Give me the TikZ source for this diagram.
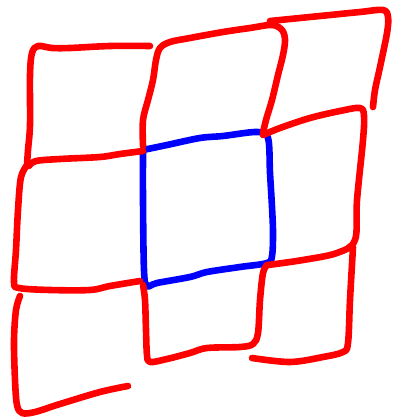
\documentclass[tikz,border=0pt]{standalone}
\usetikzlibrary{calc}
\definecolor{inkred}{HTML}{FF0000}
\definecolor{inkblue}{HTML}{0000FF}
\tikzset{
  ink/.style={line width=6.6pt, line cap=round, line join=round},
  redink/.style={ink, draw=inkred},
  blueink/.style={ink, draw=inkblue},
  hand/.style={smooth, tension=0.55},
}
\begin{document}
\begin{tikzpicture}[x=1pt, y=-1pt]
\useasboundingbox (0,0) rectangle (392,419);

% Centre cell (blue), drawn first so the red strokes lie on it
\draw[blueink] plot[hand] coordinates {(143,150) (167,145) (200,138) (223,136)
  (257,132) (268,138) (270,173) (272,207) (273,233) (272,256) (267,263)
  (240,267) (207,272) (190,277) (157,283) (147,286) (144,270) (143,200) (143,152)};

% Top row
\draw[redink] plot[hand] coordinates {(150,46) (110,46) (70,48) (52,48) (38,46)
  (32,53) (30,75) (30,125) (28,150) (27,165)};
\draw[redink] plot[hand] coordinates {(29,166) (36,161) (60,159) (100,157)
  (120,154) (143,151)};
\draw[redink] plot[hand] coordinates {(143,146) (143,120) (148,100) (153,80)
  (156,60) (160,48) (170,42) (190,38) (223,32) (250,28) (272,25) (282,30)
  (285,40) (283,55) (278,75) (272,100) (266,120) (263,133)};
\draw[redink] plot[hand] coordinates {(270,21) (300,18) (330,15) (360,12)
  (383,10) (388,17) (387,33) (380,67) (375,90) (373,107)};

% Middle row
\draw[redink] plot[hand] coordinates {(28,164) (21,177) (18,210) (16,250)
  (14,282) (19,288) (50,290) (90,290) (110,286) (140,281)};
\draw[redink] plot[hand] coordinates {(263,135) (280,128) (310,118) (340,111)
  (360,108) (364,116) (363,140) (357,200) (355,240) (337,253) (303,260) (268,265)};

% Bottom row
\draw[redink] plot[hand] coordinates {(20,296) (16,310) (14,340) (15,380)
  (17,405) (22,413) (35,412) (60,404) (100,392) (128,386)};
\draw[redink] plot[hand] coordinates {(143,285) (145,300) (146,330) (147,355)
  (150,362) (167,359) (190,353) (207,348) (240,347) (253,344) (258,333)
  (260,300) (263,273) (267,265)};
\draw[redink] plot[hand] coordinates {(353,247) (350,300) (348,343) (343,352)
  (323,357) (290,362) (252,358)};

\end{tikzpicture}
\end{document}
